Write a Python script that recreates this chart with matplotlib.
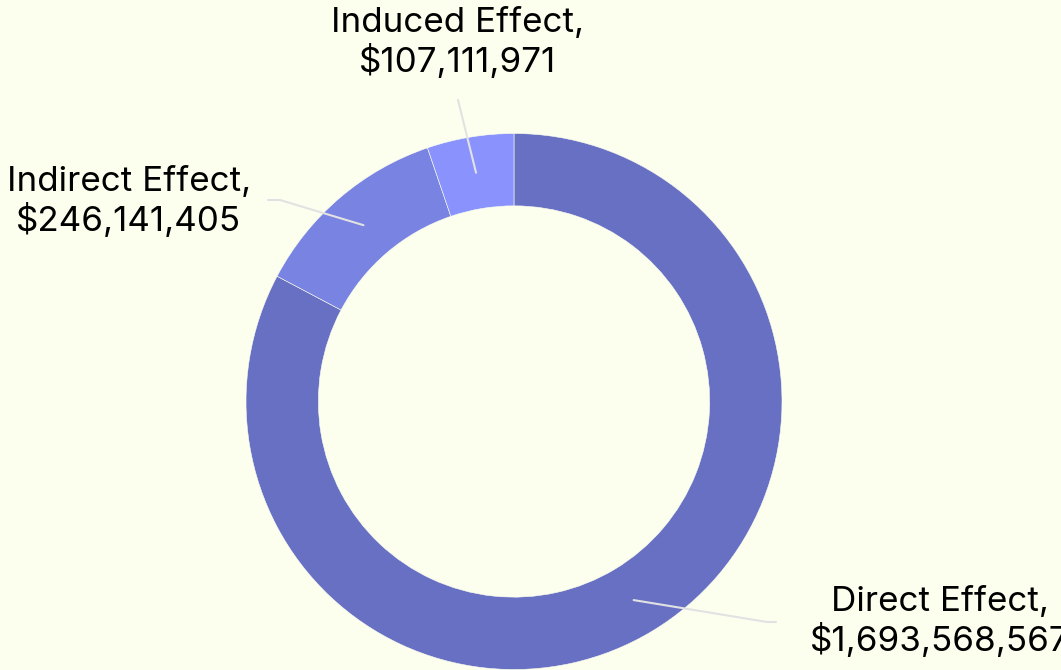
import matplotlib
matplotlib.use('Agg')
import matplotlib.pyplot as plt
import numpy as np

labels = ["Direct Effect", "Indirect Effect", "Induced Effect"]
values = [1693568567, 246141405, 107111971]
colors = ["#6870c3", "#7983e2", "#8a93fd"]
bg = "#fcffee"

W, H = 1061, 670
cx, cy, R = 514, 401.5, 268  # donut centre / radius in pixels


def to_data(px, py):
    return (px - cx) / R, (cy - py) / R


fig = plt.figure(figsize=(W / 100, H / 100), dpi=100)
fig.patch.set_facecolor(bg)
ax = fig.add_axes([(cx - R) / W, (H - cy - R) / H, 2 * R / W, 2 * R / H])
ax.set_facecolor(bg)

wedges, _ = ax.pie(values, colors=colors, startangle=90, counterclock=False,
                   radius=1, wedgeprops=dict(width=0.27, edgecolor=bg, linewidth=0.4))
ax.set_xlim(-1, 1)
ax.set_ylim(-1, 1)
ax.axis('off')

# label layout: text centre (px), leader path end points (px)
text_pos = [(940, 622), (129, 202), (458, 43)]
leader_pts = [[(767, 622), (776, 622)],
              [(280, 200), (268, 200)],
              [(458, 100)]]

for w, lab, val, tp, pts in zip(wedges, labels, values, text_pos, leader_pts):
    ang = np.deg2rad((w.theta1 + w.theta2) / 2)
    r = 0.865
    xs = [r * np.cos(ang)] + [to_data(*p)[0] for p in pts]
    ys = [r * np.sin(ang)] + [to_data(*p)[1] for p in pts]
    ax.plot(xs, ys, color="#e2e2e2", lw=1.5, clip_on=False, solid_capstyle='round')
    tx, ty = to_data(*tp)
    ax.text(tx, ty, f"{lab},\n${val:,}", ha='center', va='center',
            fontsize=25.2, family='Inter', color='black', linespacing=1.2,
            clip_on=False)

fig.savefig("out.png", dpi=100, facecolor=bg)
